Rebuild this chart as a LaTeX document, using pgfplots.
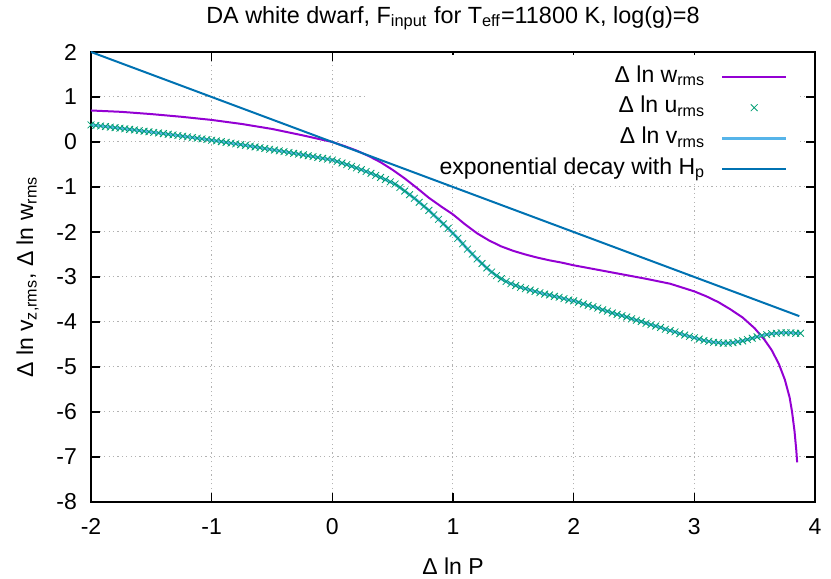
\documentclass[border=0pt]{standalone}
\usepackage{fontspec}
\setmainfont{Liberation Sans}
\usepackage{pgfplots}
\usepackage{pgfplotstable}
\pgfplotsset{compat=1.18}

\definecolor{gpviolet}{HTML}{9400D3}
\definecolor{gpgreen}{HTML}{009E73}
\definecolor{gpsky}{HTML}{56B4E9}
\definecolor{gpblue}{HTML}{0072B2}

% Delta ln w_rms
\pgfplotstableread{
x y
-2.00 0.70
-1.75 0.67
-1.50 0.62
-1.25 0.56
-1.00 0.49
-0.75 0.40
-0.50 0.29
-0.25 0.15
0.00 0.00
0.10 -0.09
0.20 -0.19
0.30 -0.31
0.40 -0.45
0.50 -0.62
0.60 -0.81
0.70 -1.02
0.80 -1.24
0.90 -1.43
1.00 -1.61
1.10 -1.83
1.20 -2.03
1.30 -2.19
1.40 -2.32
1.50 -2.42
1.60 -2.50
1.70 -2.57
1.80 -2.63
1.90 -2.68
2.00 -2.74
2.20 -2.84
2.40 -2.94
2.60 -3.04
2.80 -3.15
3.00 -3.32
3.10 -3.43
3.20 -3.56
3.30 -3.72
3.40 -3.90
3.50 -4.14
3.58 -4.39
3.64 -4.62
3.70 -4.93
3.75 -5.28
3.79 -5.68
3.81 -6.00
3.83 -6.42
3.845 -6.85
3.852 -7.12
}\wrms

% Delta ln u_rms / v_rms (the two lie on top of each other)
\pgfplotstableread{
x y
-2.00 0.380
-1.96 0.368
-1.92 0.356
-1.88 0.343
-1.84 0.331
-1.80 0.318
-1.76 0.306
-1.72 0.293
-1.68 0.280
-1.64 0.267
-1.60 0.254
-1.56 0.240
-1.52 0.227
-1.48 0.213
-1.44 0.200
-1.40 0.186
-1.36 0.172
-1.32 0.158
-1.28 0.143
-1.24 0.129
-1.20 0.114
-1.16 0.100
-1.12 0.085
-1.08 0.070
-1.04 0.055
-1.00 0.040
-0.96 0.024
-0.92 0.008
-0.88 -0.009
-0.84 -0.025
-0.80 -0.042
-0.76 -0.058
-0.72 -0.075
-0.68 -0.092
-0.64 -0.109
-0.60 -0.126
-0.56 -0.144
-0.52 -0.161
-0.48 -0.179
-0.44 -0.197
-0.40 -0.214
-0.36 -0.232
-0.32 -0.251
-0.28 -0.269
-0.24 -0.287
-0.20 -0.306
-0.16 -0.324
-0.12 -0.343
-0.08 -0.362
-0.04 -0.381
0.00 -0.400
0.04 -0.433
0.08 -0.467
0.12 -0.502
0.16 -0.538
0.20 -0.576
0.24 -0.615
0.28 -0.655
0.32 -0.697
0.36 -0.741
0.40 -0.787
0.44 -0.835
0.48 -0.886
0.52 -0.935
0.56 -1.01
0.60 -1.09
0.64 -1.17
0.68 -1.25
0.72 -1.34
0.76 -1.43
0.80 -1.52
0.84 -1.62
0.88 -1.72
0.92 -1.82
0.96 -1.92
1.00 -2.03
1.04 -2.14
1.08 -2.26
1.12 -2.38
1.16 -2.49
1.20 -2.60
1.24 -2.70
1.28 -2.80
1.32 -2.89
1.36 -2.97
1.40 -3.04
1.44 -3.10
1.48 -3.15
1.52 -3.19
1.56 -3.23
1.60 -3.26
1.64 -3.29
1.68 -3.32
1.72 -3.35
1.76 -3.38
1.80 -3.40
1.84 -3.43
1.88 -3.45
1.92 -3.48
1.96 -3.51
2.00 -3.53
2.04 -3.56
2.08 -3.60
2.12 -3.63
2.16 -3.66
2.20 -3.69
2.24 -3.73
2.28 -3.76
2.32 -3.80
2.36 -3.83
2.40 -3.86
2.44 -3.89
2.48 -3.93
2.52 -3.96
2.56 -3.99
2.60 -4.03
2.64 -4.06
2.68 -4.09
2.72 -4.12
2.76 -4.16
2.80 -4.19
2.84 -4.22
2.88 -4.26
2.92 -4.29
2.96 -4.32
3.00 -4.35
3.04 -4.38
3.08 -4.41
3.12 -4.43
3.16 -4.45
3.20 -4.46
3.24 -4.47
3.28 -4.47
3.32 -4.46
3.36 -4.44
3.40 -4.42
3.44 -4.39
3.48 -4.36
3.52 -4.33
3.56 -4.30
3.60 -4.28
3.64 -4.26
3.68 -4.25
3.72 -4.24
3.76 -4.24
3.80 -4.24
3.84 -4.25
3.88 -4.25
}\uvrms

% exponential decay with H_p
\pgfplotstableread{
x y
-2.00 2.00
3.87 -3.87
}\hp

\begin{document}
\begin{tikzpicture}[font=\fontsize{11.5}{13.8}\selectfont]
\useasboundingbox (-45.5pt,-38.25pt) rectangle (370pt,251pt);
\begin{axis}[
  scale only axis,
  width=362pt, height=225pt,
  xmin=-2, xmax=4, ymin=-8, ymax=2,
  xtick={-2,...,4}, ytick={-8,...,2},
  minor tick num=0,
  axis line style={line width=0.8pt},
  tick style={black, line width=0.6pt},
  grid=major,
  major grid style={gray!60, line width=0.5pt, dash pattern=on 0.6pt off 1.6pt},
  /pgf/number format/assume math mode=true,
  xticklabel style={anchor=base, yshift=-16pt},
  yticklabel style={anchor=east, xshift=-3.5pt},
  title={DA white dwarf, F\textsubscript{input} for T\textsubscript{eff}=11800 K, log(g)=8},
  every axis title shift=0pt,
  title style={at={(axis description cs:0.5,1.0644)}, anchor=base, inner sep=0pt,
    font=\fontsize{11.7}{14}\selectfont},
  xlabel={Δ ln P},
  xlabel style={at={(axis description cs:0.5,-0.16)}, anchor=base, inner sep=0pt},
  ylabel={Δ ln v\textsubscript{z,rms}, Δ ln w\textsubscript{rms}},
  ylabel style={at={(axis description cs:-0.0801,0.5)}, anchor=base, inner sep=0pt},
  legend plot pos=right,
  legend cell align=right,
  legend image code/.code={\draw[mark repeat=2,mark phase=2,#1] plot coordinates {(0pt,0pt) (16pt,0pt) (32pt,0pt)};},
  legend style={at={(rel axis cs:0.971,0.988)}, anchor=north east, draw=none, fill=none,
    row sep=0pt, column sep=6pt,
    nodes={text height=8.5pt, text depth=3.2pt, inner sep=1.8pt, align=right}},
]
% key background: hides the grid, lies under the curves
\fill[white] (rel axis cs:0.381,0.708) rectangle (rel axis cs:0.979,0.994);
\addplot[gpviolet, line width=1pt] table {\wrms};
\addlegendentry{Δ ln w\textsubscript{rms}}
\addplot[gpgreen, only marks, mark=x, mark size=2.4pt, mark options={line width=0.4pt}] table {\uvrms};
\addlegendentry{Δ ln u\textsubscript{rms}}
\addplot[gpsky, line width=1.4pt] table {\uvrms};
\addlegendentry{Δ ln v\textsubscript{rms}}
\addplot[gpblue, line width=1pt] table {\hp};
\addlegendentry{exponential decay with H\textsubscript{p}}
\end{axis}
\end{tikzpicture}
\end{document}
